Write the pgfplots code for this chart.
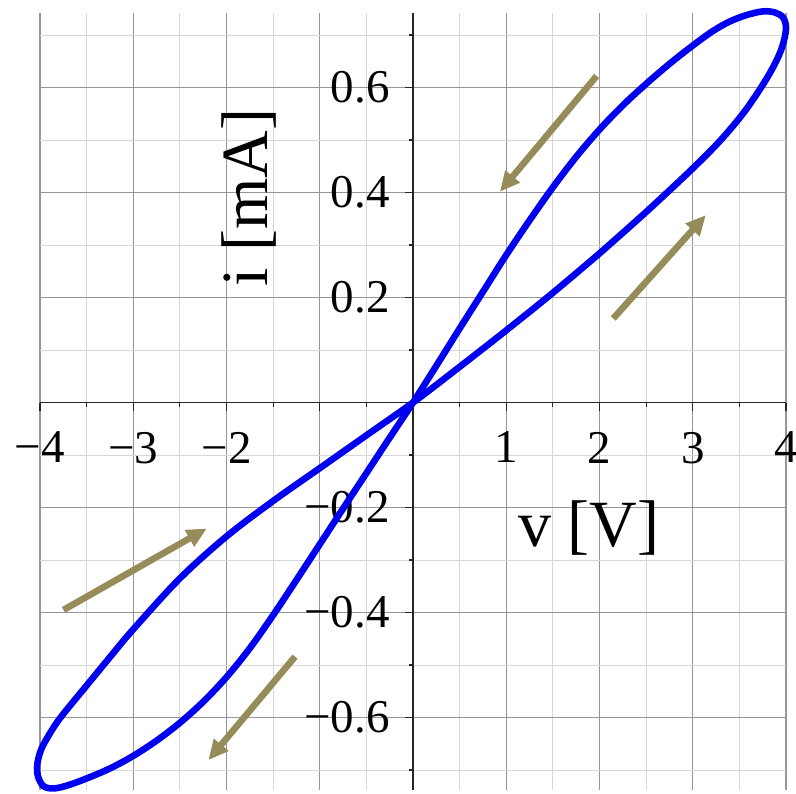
\documentclass[border=0pt]{standalone}
\usepackage{fontspec}
\setmainfont{Liberation Serif}
\usepackage{pgfplots}
\pgfplotsset{compat=1.18}
\usetikzlibrary{arrows.meta}

\definecolor{curveblue}{RGB}{0,0,240}
\definecolor{arrowolive}{RGB}{150,140,90}
\definecolor{majorgrid}{RGB}{150,150,150}
\definecolor{minorgrid}{RGB}{215,215,215}

% pinched hysteresis loop of the memristor, i [mA] against v [V]
\pgfplotstableread{
v       i
2.000   0.284
2.500   0.363
3.000   0.446
3.300   0.500
3.550   0.553
3.750   0.605
3.880   0.645
3.960   0.678
4.000   0.712
3.970   0.733
3.880   0.743
3.750   0.745
3.576   0.738
3.400   0.726
3.219   0.708
3.000   0.680
2.750   0.645
2.500   0.607
2.250   0.566
2.000   0.520
1.750   0.468
1.500   0.410
1.250   0.347
1.000   0.281
0.750   0.211
0.500   0.141
0.250   0.070
0.000   0.000
-0.250  -0.067
-0.500  -0.1345
-0.750  -0.202
-1.000  -0.270
-1.250  -0.338
-1.500  -0.405
-1.750  -0.468
-2.000  -0.523
-2.250  -0.570
-2.500  -0.610
-2.750  -0.644
-3.000  -0.673
-3.250  -0.697
-3.500  -0.716
-3.700  -0.729
-3.850  -0.735
-3.960  -0.731
-4.020  -0.713
-4.030  -0.690
-3.990  -0.662
-3.910  -0.635
-3.780  -0.600
-3.500  -0.539
-3.250  -0.485
-3.000  -0.432
-2.500  -0.335
-2.000  -0.255
-1.500  -0.1875
-1.000  -0.125
-0.500  -0.0625
0.000   0.000
0.500   0.068
1.000   0.1375
1.500   0.209
2.000   0.284
}\loopdata

\begin{document}
\begin{tikzpicture}
\begin{axis}[
  scale only axis,
  width=373pt, height=388.5pt,
  xmin=-4, xmax=4, ymin=-0.738, ymax=0.742,
  axis lines=middle,
  axis line style={black!85, line width=0.8pt, -},
  tick align=outside,
  xtick={-4,-3,-2,-1,0,1,2,3,4},
  xticklabels={−4,−3,−2,,,1,2,3,4},
  ytick={-0.6,-0.4,-0.2,0,0.2,0.4,0.6},
  yticklabels={−0.6,−0.4,−0.2,,0.2,0.4,0.6},
  minor xtick={-3.5,-2.5,-1.5,-0.5,0.5,1.5,2.5,3.5},
  minor ytick={-0.7,-0.5,-0.3,-0.1,0.1,0.3,0.5,0.7},
  grid=both,
  major grid style={majorgrid, line width=0.6pt},
  minor grid style={minorgrid, line width=0.5pt},
  major tick length=4pt, minor tick length=2pt,
  tick style={black!85, line width=0.6pt},
  ticklabel style={font=\fontsize{23.5}{26}\selectfont},
  xticklabel style={anchor=north, inner sep=0pt, yshift=-10.5pt},
  yticklabel style={anchor=east, inner sep=0pt, xshift=-7.5pt},
  clip=false,
]
\addplot[curveblue, line width=3.3pt, smooth, tension=0.55] table[x=v, y=i] {\loopdata};

% direction of travel around the loop
\draw[arrowolive, line width=3.3pt, -{Triangle[length=10pt,width=9pt]}]
  (axis cs:1.969,0.622) -- (axis cs:0.932,0.4015);
\draw[arrowolive, line width=3.3pt, -{Triangle[length=10pt,width=9pt]}]
  (axis cs:2.147,0.160) -- (axis cs:3.14,0.357);
\draw[arrowolive, line width=3.3pt, -{Triangle[length=10pt,width=9pt]}]
  (axis cs:-3.748,-0.395) -- (axis cs:-2.211,-0.240);
\draw[arrowolive, line width=3.3pt, -{Triangle[length=10pt,width=9pt]}]
  (axis cs:-1.265,-0.484) -- (axis cs:-2.194,-0.681);

\node[anchor=base west, inner sep=0pt, font=\fontsize{33}{36}\selectfont]
  at (axis cs:1.125,-0.275) {v [V]};
\node[rotate=90, anchor=base west, inner sep=0pt, font=\fontsize{33}{36}\selectfont]
  at (axis cs:-1.565,0.22) {i [mA]};

\coordinate (bl) at (rel axis cs:0,0);
\coordinate (tr) at (rel axis cs:1,1);
\end{axis}
\pgfresetboundingbox
\path (bl) ++(-20pt,-2pt) rectangle ([shift={(5pt,6.5pt)}]tr);
\end{tikzpicture}
\end{document}
